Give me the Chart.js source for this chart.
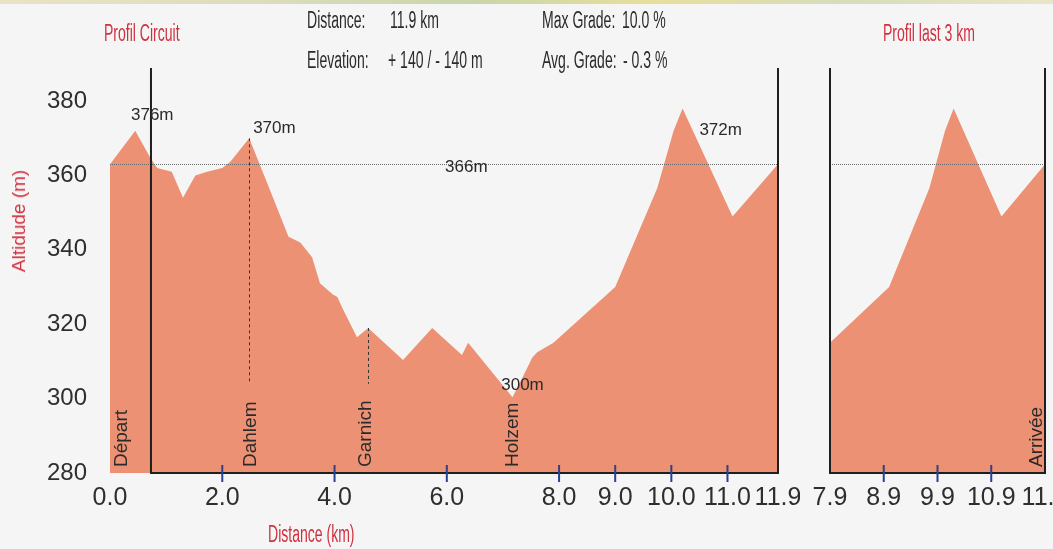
<!DOCTYPE html>
<html>
<head>
<meta charset="utf-8">
<script src="https://cdn.jsdelivr.net/npm/chart.js@4.4.0/dist/chart.umd.min.js"></script>
<style>
    body { margin: 0; width: 1053px; height: 549px; overflow: hidden; position: relative; background: #f5f5f5; font-family: 'Liberation Sans', Arial, sans-serif; }
    .strip { position: absolute; left: 0; top: 0; width: 1053px; height: 4px; background: linear-gradient(90deg, #e9e3c6, #dcdcbf 25%, #c9d5a9 45%, #e7df9c 62%, #d6dcbc 80%, #eae5c8); }
    .narrow { position: absolute; font-family: 'Liberation Sans Narrow', 'Liberation Sans', sans-serif; font-size: 23px; line-height: 22px; transform: scaleX(0.61); transform-origin: left center; white-space: nowrap; color: #2b2b2b; }
    .red { color: #d0313f; }
    .ytitle { position: absolute; left: 19px; top: 221px; transform: translate(-50%, -50%) rotate(-90deg); font-size: 19px; color: #d0313f; white-space: nowrap; }
    canvas { position: absolute; top: 0; }
    #mainChart { left: 0; }
    #lastChart { left: 800px; }
</style>
</head>
<body>
<div class="strip"></div>
<canvas id="mainChart" width="800" height="549"></canvas>
<canvas id="lastChart" width="253" height="549"></canvas>

<div class="narrow red" style="left:104px; top:22px;">Profil Circuit</div>
<div class="narrow red" style="left:883px; top:22px;">Profil last 3 km</div>
<div class="narrow" style="left:307px; top:9px;">Distance:</div>
<div class="narrow" style="left:390px; top:9px;">11.9 km</div>
<div class="narrow" style="left:307px; top:49px;">Elevation:</div>
<div class="narrow" style="left:388px; top:49px;">+ 140 / - 140 m</div>
<div class="narrow" style="left:542px; top:9px;">Max Grade:</div>
<div class="narrow" style="left:622px; top:9px;">10.0 %</div>
<div class="narrow" style="left:542px; top:49px;">Avg. Grade:</div>
<div class="narrow" style="left:623px; top:49px;">- 0.3 %</div>
<div class="narrow red" style="left:268px; top:523px;">Distance (km)</div>
<div class="ytitle">Altidude (m)</div>

<script>
// Elevation profile (km, m)
const distKm = [0.0, 0.45, 0.71, 0.84, 1.1, 1.3, 1.52, 1.73, 2.0, 2.14, 2.48, 2.8, 3.18, 3.39, 3.6, 3.74, 3.97, 4.05, 4.15, 4.4, 4.6, 5.22, 5.74, 6.27, 6.38, 7.17, 7.36, 7.52, 7.61, 7.9, 9.0, 9.75, 10.04, 10.2, 11.09, 11.9];
const altM   = [363, 372, 365, 362, 361, 354, 360, 361, 362, 363.6, 370, 358, 343.5, 342, 338, 331, 328, 327.3, 324, 316.5, 319, 310.4, 319, 311.7, 315, 300.4, 306, 311, 312.5, 315, 330, 356.6, 372, 378, 349, 363];

const xTicksMain = [0, 2, 4, 6, 8, 9, 10, 11, 11.9];
const xTicksLast = [7.9, 8.9, 9.9, 10.9, 11.9];
const yTicks = [280, 300, 320, 340, 360, 380];
const blueTicksMain = [2, 4, 6, 8, 9, 10, 11];
const blueTicksLast = [8.9, 9.9, 10.9];

// reference line
const refAlt = 363;

// place names along the route
const placeNames = ['Départ', 'Dahlem', 'Garnich', 'Holzem'];
const placeKm = [0.21, 2.5, 4.55, 7.18];
const pinIdx = [10, 20];          // Dahlem, Garnich summits in the series
const pinBottomAlt = 304;
const lastPlaceName = 'Arrivée';
const lastPlaceKm = 11.75;

// altitude labels
const altLabels = ['376m', '370m', '366m', '372m', '300m'];
const altLabelKm = [0.374, 2.55, 5.97, 10.5, 6.97];
const altLabelM = [376.2, 372.7, 362.3, 372.2, 303.5];

const frameStartKm = 0.73;

const FILL = '#ec9173';
const INK = '#1f1f1f';
const TICK_BLUE = '#2c3f92';
const NARROW = "'Liberation Sans Narrow', 'Liberation Sans', sans-serif";
const REGULAR = "'Liberation Sans', Arial, sans-serif";

const points = distKm.map((d, i) => ({ x: d, y: altM[i] }));

function profilePlugin(opts) {
    return {
        id: 'profile',
        afterDatasetsDraw(chart) {
            const { ctx, chartArea, scales } = chart;
            const x = scales.x, y = scales.y;
            ctx.save();

            // dotted reference line
            ctx.strokeStyle = '#6a6a6a';
            ctx.lineWidth = 1;
            ctx.setLineDash([1, 1]);
            ctx.beginPath();
            ctx.moveTo(chartArea.left, Math.round(y.getPixelForValue(refAlt)) + 0.5);
            ctx.lineTo(chartArea.right, Math.round(y.getPixelForValue(refAlt)) + 0.5);
            ctx.stroke();

            // dashed pins
            ctx.strokeStyle = '#333';
            ctx.setLineDash([3, 3]);
            (opts.pins || []).forEach(i => {
                const px = Math.round(x.getPixelForValue(distKm[i])) + 0.5;
                ctx.beginPath();
                ctx.moveTo(px, y.getPixelForValue(altM[i]));
                ctx.lineTo(px, y.getPixelForValue(pinBottomAlt));
                ctx.stroke();
            });
            ctx.setLineDash([]);

            // frame
            const left = opts.frameLeft !== undefined ? x.getPixelForValue(opts.frameLeft) : chartArea.left;
            ctx.strokeStyle = INK;
            ctx.lineWidth = 2;
            ctx.beginPath();
            ctx.moveTo(left, chartArea.top);
            ctx.lineTo(left, chartArea.bottom);
            ctx.lineTo(chartArea.right, chartArea.bottom);
            ctx.lineTo(chartArea.right, chartArea.top);
            ctx.stroke();

            // blue tick marks
            ctx.strokeStyle = TICK_BLUE;
            ctx.lineWidth = 2;
            opts.blueTicks.forEach(v => {
                const px = x.getPixelForValue(v);
                ctx.beginPath();
                ctx.moveTo(px, chartArea.bottom - 8);
                ctx.lineTo(px, chartArea.bottom + 9);
                ctx.stroke();
            });

            // vertical place names
            ctx.fillStyle = '#2a2a2a';
            ctx.font = '19px ' + REGULAR;
            ctx.textAlign = 'left';
            ctx.textBaseline = 'middle';
            opts.places.forEach(p => {
                ctx.save();
                ctx.translate(x.getPixelForValue(p.km), chartArea.bottom - 6);
                ctx.rotate(-Math.PI / 2);
                ctx.fillText(p.name, 0, 0);
                ctx.restore();
            });

            // altitude labels
            ctx.font = '17px ' + REGULAR;
            (opts.labels || []).forEach(l => {
                ctx.fillText(l.text, x.getPixelForValue(l.km), y.getPixelForValue(l.m));
            });

            ctx.restore();
        }
    };
}

function makeChart(canvasId, xMin, xMax, xTicks, padding, showY, plugin) {
    return new Chart(document.getElementById(canvasId), {
        type: 'line',
        data: {
            datasets: [{
                data: points,
                fill: 'start',
                backgroundColor: FILL,
                borderWidth: 0,
                pointRadius: 0,
                tension: 0
            }]
        },
        options: {
            responsive: false,
            animation: false,
            events: [],
            layout: { padding: padding },
            plugins: { legend: { display: false }, tooltip: { enabled: false } },
            scales: {
                x: {
                    type: 'linear',
                    min: xMin,
                    max: xMax,
                    grid: { display: false, drawTicks: false },
                    border: { display: false },
                    afterBuildTicks: s => { s.ticks = xTicks.map(v => ({ value: v })); },
                    afterFit: s => { s.height = 76; s.paddingLeft = 0; s.paddingRight = 0; },
                    ticks: {
                        autoSkip: false,
                        maxRotation: 0,
                        padding: 10,
                        color: '#2e2e2e',
                        font: { family: NARROW, size: 25 },
                        callback: v => Number(v).toFixed(1)
                    }
                },
                y: {
                    display: showY,
                    min: 280,
                    max: 388.9,
                    grid: { display: false, drawTicks: false },
                    border: { display: false },
                    afterBuildTicks: s => { s.ticks = yTicks.map(v => ({ value: v })); },
                    afterFit: s => { s.width = showY ? 110 : 0; s.paddingTop = 0; s.paddingBottom = 0; },
                    ticks: {
                        padding: 23,
                        color: '#2e2e2e',
                        font: { family: NARROW, size: 24 }
                    }
                }
            }
        },
        plugins: [plugin]
    });
}

makeChart('mainChart', 0, 11.9, xTicksMain, { left: 0, right: 22, top: 68, bottom: 0 }, true,
    profilePlugin({
        frameLeft: frameStartKm,
        blueTicks: blueTicksMain,
        pins: pinIdx,
        places: placeNames.map((n, i) => ({ name: n, km: placeKm[i] })),
        labels: altLabels.map((t, i) => ({ text: t, km: altLabelKm[i], m: altLabelM[i] }))
    }));

makeChart('lastChart', 7.9, 11.9, xTicksLast, { left: 30, right: 8, top: 68, bottom: 0 }, false,
    profilePlugin({
        blueTicks: blueTicksLast,
        places: [{ name: lastPlaceName, km: lastPlaceKm }]
    }));
</script>
</body>
</html>
